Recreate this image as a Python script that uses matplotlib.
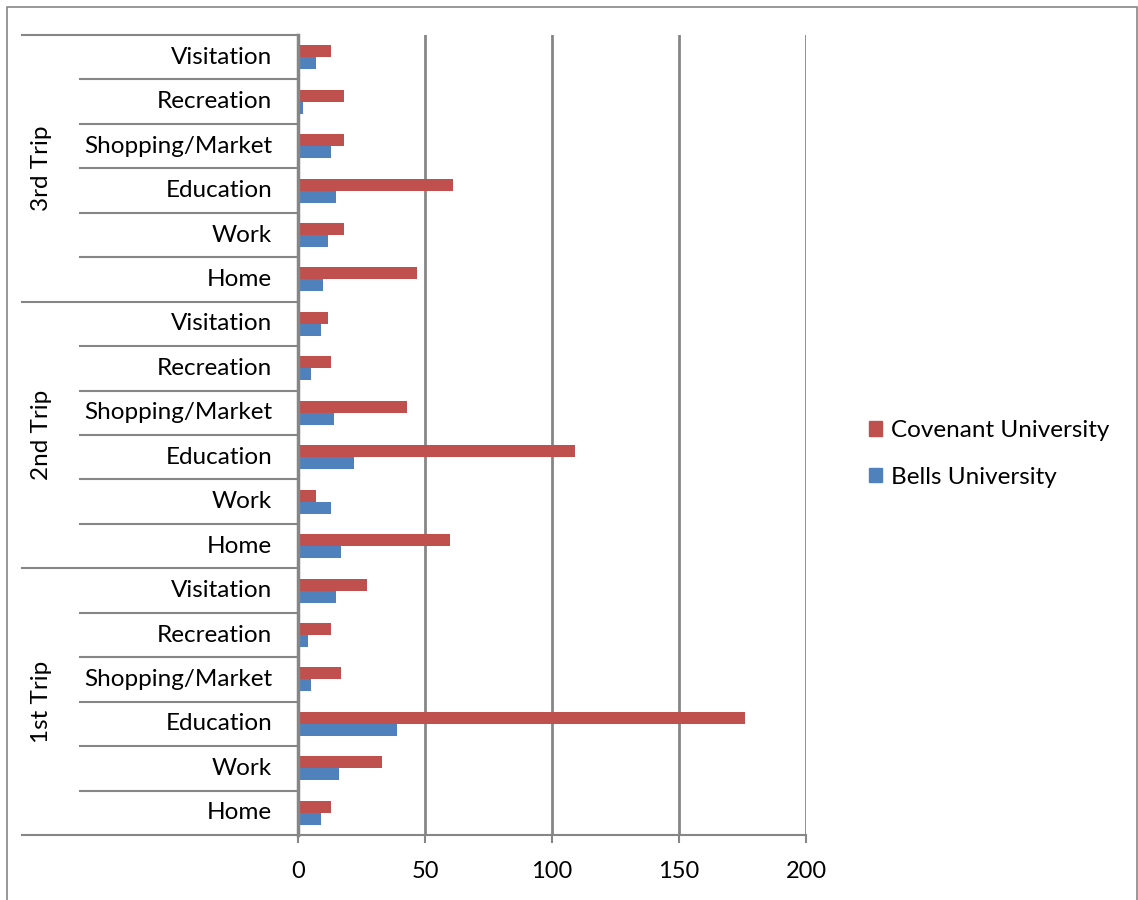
import numpy as np
import matplotlib
matplotlib.use('Agg')
from matplotlib import pyplot as plt
from matplotlib.patches import Rectangle, Patch
from matplotlib.lines import Line2D

plt.rcParams['font.family'] = ['Lato', 'DejaVu Sans']

trips = ['1st Trip', '2nd Trip', '3rd Trip']
purposes = ['Home', 'Work', 'Education', 'Shopping/Market', 'Recreation', 'Visitation']

# values per trip, in purpose order (bottom to top)
covenant = [13, 33, 176, 17, 13, 27,
            60, 7, 109, 43, 13, 12,
            47, 18, 61, 18, 18, 13]
bells = [9, 16, 39, 5, 4, 15,
         17, 13, 22, 14, 5, 9,
         10, 12, 15, 13, 2, 7]

red = '#C0504D'
blue = '#4F81BD'
grey = '#868686'

W, H = 1138, 900
fig = plt.figure(figsize=(W / 100, H / 100), dpi=100)
ax = fig.add_axes([298 / W, 1 - 835 / H, (806 - 298) / W, 800 / H])

n = len(covenant)
y = np.arange(n)
bh = 0.27
ax.barh(y + bh / 2, covenant, height=bh, color=red, label='Covenant University')
ax.barh(y - bh / 2, bells, height=bh, color=blue, label='Bells University')

ax.set_xlim(0, 200)
ax.set_ylim(-0.5, n - 0.5)
ax.set_xticks([0, 50, 100, 150, 200])
ax.tick_params(axis='x', labelsize=17, length=6, width=1.5, color=grey, pad=13)
ax.set_yticks([])
ax.grid(axis='x', color=grey, linewidth=2)
ax.set_axisbelow(True)
for s in ['top', 'right']:
    ax.spines[s].set_visible(False)
ax.spines['left'].set_color(grey)
ax.spines['left'].set_linewidth(2.5)
ax.spines['bottom'].set_color(grey)
ax.spines['bottom'].set_linewidth(1.5)

# category labels and separators
trans = ax.get_yaxis_transform()
for i in range(n):
    ax.text(-26 / 508, i, purposes[i % 6], transform=trans, ha='right', va='center', fontsize=17.5)
for i in range(n + 1):
    b = i - 0.5
    x0 = (22 - 298) / 508 if i % 6 == 0 else (80 - 298) / 508
    ax.add_line(Line2D([x0, 0], [b, b], transform=trans, color=grey, linewidth=1.5, clip_on=False))
for g, name in enumerate(trips):
    ax.text((41 - 298) / 508, g * 6 + 2.5, name, transform=trans, rotation=90,
            ha='center', va='center', fontsize=17.5)

# outer frame
fig.add_artist(Rectangle((7 / W, -0.01), (1137 - 7) / W, 1 - 7 / H + 0.01,
                         transform=fig.transFigure, fill=False, edgecolor=grey, linewidth=1.2))

handles = [Patch(color=red), Patch(color=blue)]
fig.legend(handles, ['Covenant University', 'Bells University'], loc='center left',
           bbox_to_anchor=(869 / W, 1 - 454 / H), frameon=False, fontsize=17.5, borderpad=0,
           borderaxespad=0, handlelength=0.55, handleheight=0.55, handletextpad=0.35,
           labelspacing=1.05)

fig.savefig('out.png', dpi=100)
